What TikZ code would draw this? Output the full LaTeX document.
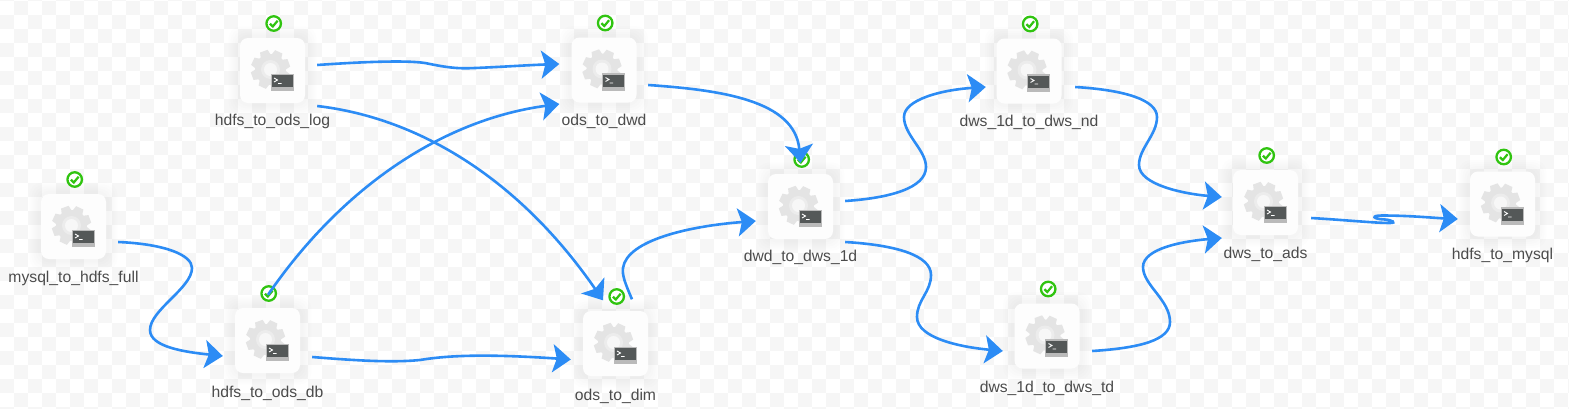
\documentclass[tikz,border=0pt]{standalone}
\usepackage{fontspec}
\setmainfont{Liberation Sans}
\usetikzlibrary{arrows.meta}

\tikzset{
    jobbox/.style={rectangle, rounded corners=8pt, minimum size=65pt, inner sep=0pt, fill=jobwhite},
    jobtext/.style={inner sep=0pt, text=jobgrey, font=\fontsize{15.7}{18}\selectfont},
    okbadge/.style={circle, draw=okgreen, line width=2.3pt, fill=white, minimum size=14.5pt, inner sep=0pt},
    flow/.style={draw=flowblue, line width=2.6pt, -{Stealth[length=18pt,width=28pt,inset=4pt]}},
    gearicon/.pic={
        \fill[geargrey] (-2,-1) circle (15.5);
        \foreach \a in {0,45,...,315}
            \fill[geargrey, shift={(-2,-1)}, rotate=\a+20] (-4,-19.5) -- (4,-19.5) -- (5.5,-13) -- (-5.5,-13) -- cycle;
        \fill[gearmid] (-2,-1) circle (9.5);
        \fill[gearlight] (-2,-1) circle (6.5);
        \fill[termframe] (-2,3) rectangle (21,20.5);
        \fill[termdark] (-1,4.5) rectangle (20,16.5);
        \draw[white, line width=0.9pt] (1.5,7.5) -- (5,9.5) -- (1.5,11.5) (5.5,13) -- (9,13);
    },
    okmark/.pic={
        \draw[okgreen, line width=2.2pt] (-3.8,0.2) -- (-0.9,3) -- (3.9,-2.8);
    }
}

\begin{document}
\begin{tikzpicture}[x=1pt, y=-1pt]
    % Define colors for the canvas and the jobs
    \definecolor{chkgrey}{RGB}{246,246,246}
    \definecolor{jobwhite}{RGB}{253,253,253}
    \definecolor{jobgrey}{RGB}{76,76,76}
    \definecolor{okgreen}{RGB}{48,196,16}
    \definecolor{flowblue}{RGB}{44,140,245}
    \definecolor{geargrey}{RGB}{228,228,228}
    \definecolor{gearmid}{RGB}{236,236,236}
    \definecolor{gearlight}{RGB}{247,247,247}
    \definecolor{termframe}{RGB}{186,186,186}
    \definecolor{termdark}{RGB}{84,88,88}

    % Checkered canvas
    \useasboundingbox (0,0) rectangle (1569,408);
    \clip (0,0) rectangle (1569,408);
    \fill[white] (0,0) rectangle (1569,408);
    \foreach \i in {0,...,56}
        \foreach \j in {-1,...,14} {
            \fill[chkgrey] (28*\i+14,28*\j+1) rectangle +(14,14);
            \fill[chkgrey] (28*\i,28*\j+15) rectangle +(14,14);
        }

    % Jobs
    \foreach \n/\x/\y/\d/\t in {
        mysqlfull/73.5/226.5/51.5/mysql\_to\_hdfs\_full,
        odsdb/267.5/340.5/52.5/hdfs\_to\_ods\_db,
        odslog/272.5/70.5/51/hdfs\_to\_ods\_log,
        dwd/604/70/51.5/ods\_to\_dwd,
        dim/615.5/343.5/53/ods\_to\_dim,
        dwsone/800.5/206.5/51/dwd\_to\_dws\_1d,
        dwsnd/1029/71/51/dws\_1d\_to\_dws\_nd,
        dwstd/1047/336/52.5/dws\_1d\_to\_dws\_td,
        ads/1265.5/202.5/51.5/dws\_to\_ads,
        hdfsmysql/1502.5/204/51/hdfs\_to\_mysql} {
        \foreach \g in {44,42,40,38,36}
            \fill[black, opacity=0.006, rounded corners=12pt] (\x-\g,\y-\g) rectangle (\x+\g,\y+\g);
        \node[jobbox] (\n) at (\x,\y) {};
        \pic at (\x,\y) {gearicon};
        \node[okbadge] (\n ok) at (\x+1.2,\y-47) {};
        \pic at (\x+1.2,\y-47) {okmark};
        \node[jobtext] (\n text) at (\x,\y+\d) {\t};
    }

    % Connectors
    \draw[flow] ([shift={(12,15.5)}]mysqlfull.east) .. controls (165,244) and (192,255) .. (192,268)
        .. controls (192,288) and (150,310) .. (150,330)
        .. controls (150,347) and (185,352) .. ([shift={(-12,15.5)}]odsdb.west);
    \draw[flow] ([shift={(12,-5.5)}]odslog.east) .. controls (360,62) and (405,60) .. (425,63)
        .. controls (445,67) and (455,69) .. (475,68)
        .. controls (500,67) and (530,65) .. ([shift={(-12,-6)}]dwd.west);
    \draw[flow] ([shift={(12,35.5)}]odslog.east) .. controls (420,118) and (520,180) .. ([shift={(-12.5,-10.5)}]dim.north);
    \draw[flow] ([shift={(0.5,-13)}]odsdb.north) .. controls (340,190) and (440,120) .. ([shift={(-12,34)}]dwd.west);
    \draw[flow] ([shift={(12,16.5)}]odsdb.east) .. controls (350,360) and (390,363) .. (420,360)
        .. controls (450,355) and (490,354) .. ([shift={(-12,16)}]dim.west);
    \draw[flow] ([shift={(16.5,-11.5)}]dim.north) .. controls (625,283) and (622,275) .. (623,268)
        .. controls (627,240) and (690,226) .. ([shift={(-12,14.5)}]dwsone.west);
    \draw[flow] ([shift={(11.5,15)}]dwd.east) .. controls (720,90) and (795,100) .. ([shift={(0,-11)}]dwsone.north);
    \draw[flow] ([shift={(12,-5.5)}]dwsone.east) .. controls (890,198) and (926,188) .. (926,167)
        .. controls (926,150) and (904,135) .. (904,117)
        .. controls (904,100) and (940,90) .. ([shift={(-10.5,16)}]dwsnd.west);
    \draw[flow] ([shift={(12,35.5)}]dwsone.east) .. controls (895,245) and (931,255) .. (931,275)
        .. controls (931,292) and (917,300) .. (917,317)
        .. controls (917,338) and (960,347) .. ([shift={(-11.5,15)}]dwstd.west);
    \draw[flow] ([shift={(13.5,16)}]dwsnd.east) .. controls (1125,90) and (1157,100) .. (1157,117)
        .. controls (1157,135) and (1139,148) .. (1139,165)
        .. controls (1139,185) and (1185,194) .. ([shift={(-11,-5.5)}]ads.west);
    \draw[flow] ([shift={(12.5,15)}]dwstd.east) .. controls (1140,348) and (1170,340) .. (1170,322)
        .. controls (1170,300) and (1143,285) .. (1143,267)
        .. controls (1143,248) and (1185,241) .. ([shift={(-11,35.5)}]ads.west);
    \draw[flow] ([shift={(13,15.5)}]ads.east) .. controls (1345,220) and (1375,223) .. (1390,223)
        .. controls (1397,223) and (1392,220) .. (1385,219.5)
        .. controls (1372,219) and (1371,215.5) .. (1382,215.5)
        .. controls (1410,215.5) and (1435,218) .. ([shift={(-12,15)}]hdfsmysql.west);
\end{tikzpicture}
\end{document}
